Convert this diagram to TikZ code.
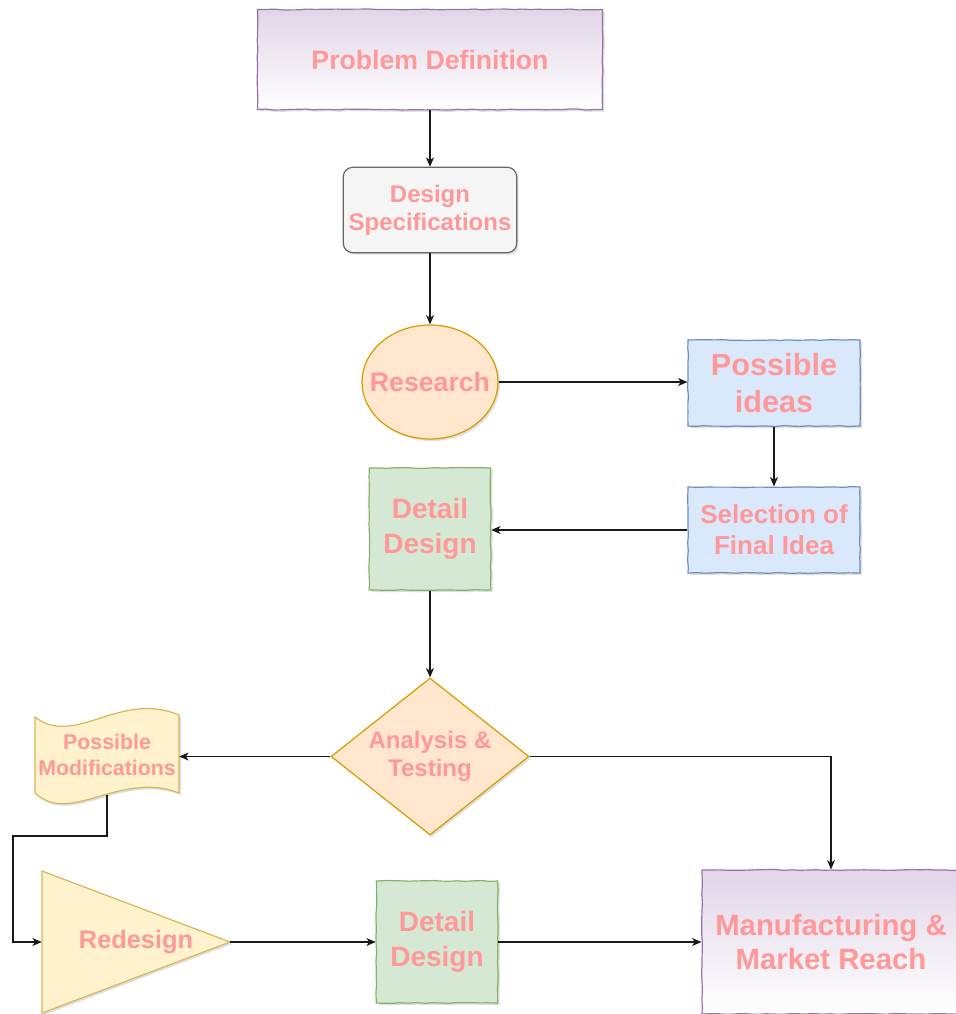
\documentclass[tikz,border=0pt]{standalone}
\usepackage{fontspec}
\setmainfont{Liberation Sans}
\usetikzlibrary{arrows.meta,shapes.geometric,shadows,decorations.pathmorphing,calc}
\definecolor{txtc}{HTML}{FF9999}
\definecolor{purpF}{HTML}{E1D5E7}\definecolor{purpS}{HTML}{9673A6}
\definecolor{grayF}{HTML}{F5F5F5}\definecolor{grayS}{HTML}{666666}
\definecolor{orgF}{HTML}{FFE6CC}\definecolor{orgS}{HTML}{D79B00}
\definecolor{bluF}{HTML}{DAE8FC}\definecolor{bluS}{HTML}{6C8EBF}
\definecolor{grnF}{HTML}{D5E8D4}\definecolor{grnS}{HTML}{82B366}
\definecolor{yelF}{HTML}{FFF2CC}\definecolor{yelS}{HTML}{D6B656}
\begin{document}
\begin{tikzpicture}[x=0.75pt,y=-0.75pt,
  lbl/.style={text=txtc, align=center},
  sk/.style={decorate, decoration={random steps, segment length=6pt, amplitude=0.35pt}},
  shad/.style={drop shadow={shadow xshift=1.5pt, shadow yshift=-1.5pt, opacity=0.25}},
  box/.style={rectangle, draw, line width=0.9pt, inner sep=0pt, lbl, shad},
  purpbox/.style={box, sk, draw=purpS, top color=purpF, bottom color=white},
  blubox/.style={box, sk, draw=bluS, fill=bluF, minimum width=129pt, minimum height=64.5pt},
  grnbox/.style={box, sk, draw=grnS, fill=grnF, minimum width=91pt, minimum height=91.5pt,
     font=\bfseries\fontsize{21}{26}\selectfont},
  arr/.style={-{Stealth[length=7pt,width=6pt,inset=2pt]}, line width=0.9pt, draw=black!90},
]
\useasboundingbox (0,0) rectangle (956,1014);

% nodes
\node[purpbox, minimum width=258.75pt, minimum height=75pt,
      font=\bfseries\fontsize{20}{23.5}\selectfont] (pd) at (430,59.5) {Problem Definition};
\node[box, rounded corners=7pt, draw=grayS, fill=grayF, minimum width=130pt, minimum height=64pt,
      font=\bfseries\fontsize{18}{21}\selectfont] (ds) at (430,210) {Design\\Specifications};
\node[ellipse, draw=orgS, fill=orgF, line width=0.9pt, inner xsep=-9pt, inner ysep=0pt, lbl, shad,
      minimum width=102pt, minimum height=85.5pt,
      font=\bfseries\fontsize{20}{23.5}\selectfont] (res) at (430,382) {Research};
\node[blubox, font=\bfseries\fontsize{23}{27.5}\selectfont] (pi) at (774,383) {Possible\\ideas};
\node[blubox, font=\bfseries\fontsize{19.5}{23}\selectfont] (sel) at (774,530) {Selection of\\Final Idea};
\node[grnbox] (dd1) at (430,529) {Detail\\Design};
\node[diamond, aspect=1.26, draw=orgS, fill=orgF, line width=0.9pt, inner sep=0pt, lbl, shad,
      minimum width=148.5pt, minimum height=117.75pt,
      font=\bfseries\fontsize{18}{21}\selectfont] (at) at (430,756.5) {Analysis \&\\Testing};

% tape shape (Possible Modifications)
\draw[draw=yelS, fill=yelF, line width=0.9pt, shad]
  (35,717) .. controls (75,748) and (120,690) .. (179,715)
  -- (179,793) .. controls (120,770) and (70,826) .. (35,793) -- cycle;
\node[lbl, inner sep=0pt, minimum width=108pt, minimum height=60pt,
      font=\bfseries\fontsize{16}{19}\selectfont] (pm) at (107,755) {Possible\\Modifications};

% triangle (Redesign)
\draw[draw=yelS, fill=yelF, line width=0.9pt, shad]
  (42,871) -- (230,942) -- (42,1013) -- cycle;
\node[lbl, inner sep=0pt, minimum width=141pt, minimum height=106.5pt,
      font=\bfseries\fontsize{19}{22.5}\selectfont] (red) at (136,942) {Redesign};

\node[grnbox] (dd2) at (437,942) {Detail\\Design};
\node[purpbox, minimum width=193.5pt, minimum height=108pt,
      font=\bfseries\fontsize{22}{26}\selectfont] (mf) at (831,942) {Manufacturing \&\\Market Reach};

% connectors
\draw[arr] (pd) -- (ds);
\draw[arr] (ds) -- (res);
\draw[arr] (res.east) -- (res.east -| pi.west);
\draw[arr] (pi) -- (sel);
\draw[arr] (sel.west) -- (sel.west -| dd1.east);
\draw[arr] (dd1) -- (at);
\draw[arr] (at.west) -- (at.west -| pm.east);
\draw[arr] (at.east) -| (mf.north);
\draw[arr] (pm.south) |- (13,836) |- (red.west);
\draw[arr] (red.east) -- (dd2.west);
\draw[arr] (dd2.east) -- (mf.west);
\end{tikzpicture}
\end{document}
